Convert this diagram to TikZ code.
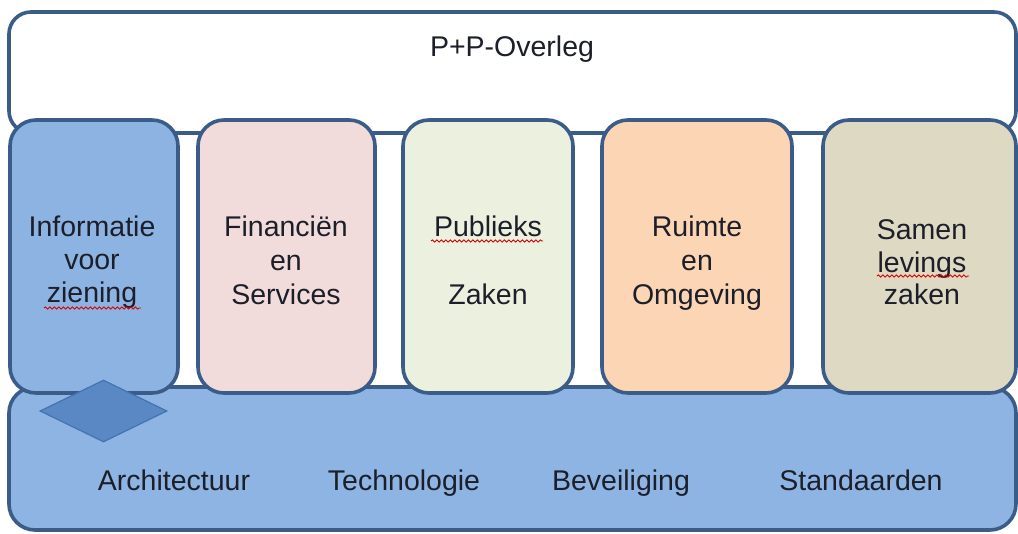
\documentclass[tikz,border=0pt]{standalone}
\usepackage{fontspec}
\setmainfont{Liberation Sans}
\usetikzlibrary{shapes.geometric,decorations.pathmorphing}
\definecolor{edge}{HTML}{3B5B88}
\definecolor{cA}{HTML}{8DB3E2}
\definecolor{cB}{HTML}{F2DCDB}
\definecolor{cC}{HTML}{EBF1DE}
\definecolor{cD}{HTML}{FCD5B4}
\definecolor{cE}{HTML}{DDD9C3}
\definecolor{base}{HTML}{8EB4E3}
\definecolor{dia}{HTML}{5A88C4}
\definecolor{diaedge}{HTML}{4373B0}
\definecolor{ink}{HTML}{1C1F2A}
\tikzset{
  panel/.style={draw=edge, line width=3.6pt, rounded corners=22pt, inner sep=0pt},
  colbox/.style={panel, rounded corners=26pt},
  lbl/.style={font=\fontsize{28.5}{34}\selectfont, text=ink, inner sep=0pt, anchor=base},
  squiggle/.style={draw=red!85!black, line width=0.9pt, decorate,
     decoration={snake, amplitude=1.1pt, segment length=4.5pt}}
}
\begin{document}
\begin{tikzpicture}[x=1pt,y=-1pt]
\useasboundingbox (0,0) rectangle (1018,534);
% main panels
\node[panel, fill=white, minimum width=1007pt, minimum height=121pt] (top) at (512.5,72.5) {};
\node[panel, fill=base, minimum width=1007pt, minimum height=143pt, rounded corners=26pt] (bottom) at (512.5,458.5) {};
% columns
\node[colbox, fill=cA, minimum width=168pt, minimum height=273pt] (c1) at (94,256.5) {};
\node[colbox, fill=cB, minimum width=177pt, minimum height=273pt] (c2) at (286.5,256.5) {};
\node[colbox, fill=cC, minimum width=170pt, minimum height=273pt] (c3) at (488,256.5) {};
\node[colbox, fill=cD, minimum width=190pt, minimum height=273pt] (c4) at (697,256.5) {};
\node[colbox, fill=cE, minimum width=193pt, minimum height=273pt] (c5) at (919.5,256.5) {};
% diamond
\node[diamond, aspect=2.05, fill=dia, draw=diaedge, line width=1.2pt, minimum width=127pt, minimum height=62pt, inner sep=0pt] (dm) at (103.5,411) {};
% texts
\node[lbl] (ttop) at (512,57) {P+P-Overleg};
\node[lbl] (t1a) at (92,237) {Informatie};
\node[lbl] (t1b) at (92,270) {voor};
\node[lbl] (t1c) at (92,303) {ziening};
\node[lbl] (t2a) at (286,237) {Financiën};
\node[lbl] (t2b) at (286,271) {en};
\node[lbl] (t2c) at (286,305) {Services};
\node[lbl] (t3a) at (488,237) {Publieks};
\node[lbl] (t3c) at (488,305) {Zaken};
\node[lbl] (t4a) at (697,237) {Ruimte};
\node[lbl] (t4b) at (697,271) {en};
\node[lbl] (t4c) at (697,305) {Omgeving};
\node[lbl] (t5a) at (922,239.5) {Samen};
\node[lbl] (t5b) at (922,272.5) {levings};
\node[lbl] (t5c) at (922,305) {zaken};
\node[lbl] (b1) at (174,491) {Architectuur};
\node[lbl] (b2) at (404,491) {Technologie};
\node[lbl] (b3) at (621,491) {Beveiliging};
\node[lbl] (b4) at (861,491) {Standaarden};
% spell-check squiggles
\coordinate (s1a) at (44,308); \coordinate (s1b) at (141,308);
\coordinate (s3a) at (431,241); \coordinate (s3b) at (543,241);
\coordinate (s5a) at (877,276); \coordinate (s5b) at (969,276);
\draw[squiggle] (s1a) -- (s1b);
\draw[squiggle] (s3a) -- (s3b);
\draw[squiggle] (s5a) -- (s5b);
\end{tikzpicture}
\end{document}
